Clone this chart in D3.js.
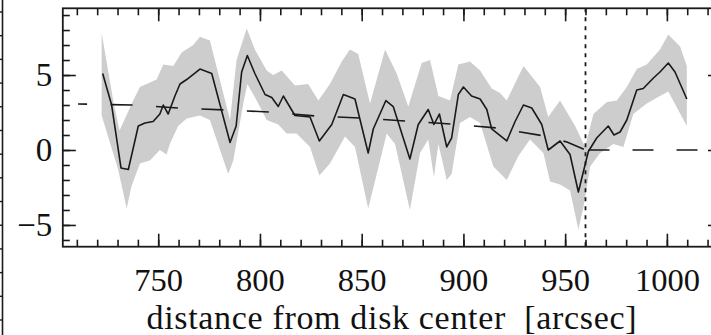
<!DOCTYPE html>
<html><head><meta charset="utf-8">
<script src="https://cdn.jsdelivr.net/npm/d3@7"></script>
<style>body{margin:0;background:#fff}svg{display:block}</style>
</head><body>
<svg id="c" width="711" height="335"></svg>
<script>
// ---- data (distance from disk center [arcsec], value) ----
const lineDist = [722.7,727.1,731.7,735.3,740.2,743.5,747.5,750.8,752.5,754.9,758.2,760.7,764,770.5,776.3,785.3,788.3,791,793.8,797.5,802.5,805.8,809,811.5,817.2,824.6,829.2,835.3,841,846.7,853.2,855.7,861.9,865.5,873.7,877.8,882.7,885.5,888.2,891.8,894.2,897.5,900,904,908.2,911.5,913.9,921.3,925.4,929.5,933.6,938.5,941.7,947.5,952.4,956.5,961.4,965.5,971.2,974,977,980.3,985.2,988.4,993.4,996.6,1000.7,1004,1009.8];
const lineVal  = [5.1,3.0,-1.2,-1.3,1.6,1.8,1.9,2.4,3.0,2.4,3.6,4.4,4.7,5.4,5.1,0.5,1.6,5.2,6.3,5.1,3.7,3.5,2.9,3.6,2.3,2.2,0.6,1.7,3.7,3.4,-0.2,1.4,3.3,2.9,-0.6,1.7,2.7,1.7,2.4,0.2,0.8,3.7,4.2,3.6,3.4,2.7,1.4,0.6,1.9,3.0,2.8,1.7,0.0,0.6,-0.3,-2.8,-0.1,0.8,1.6,1.0,1.2,2.0,4.0,4.1,4.8,5.2,5.8,5.2,3.4];

const upperDist = [722.2,728,731,737.7,741,749.2,752.5,757.4,761.5,767.2,770.5,775.4,785.3,788.5,793.5,797.5,803.3,806.5,810.7,817.2,823.7,828.7,834.4,840.2,844.2,848.3,854.1,861.5,867.2,872.9,879.5,883.6,887.7,893.4,897.5,903.2,908.2,913.9,918,921.3,929.5,937.7,941.7,947.5,954.9,959.8,963.9,970.5,975.4,980.3,985.2,990.1,996.6,1000.7,1006.5,1009.8];
const upperVal  = [7.8,3.2,1.3,3.3,4.2,4.7,5.7,5.6,6.5,7.0,7.55,7.3,2.0,6.0,8.1,6.7,5.3,5.0,5.3,4.3,4.4,3.3,4.4,5.9,6.7,6.4,3.1,6.7,5.1,2.9,5.8,6.0,3.6,3.3,5.7,5.9,5.3,4.1,3.8,3.3,5.6,4.2,2.2,3.3,1.6,0.2,2.4,3.2,3.3,4.2,5.4,5.7,6.7,7.7,6.9,5.6];

const lowerDist = [722.2,730.3,734.5,736.9,741,745.9,750.8,754.1,755.7,759.8,764,770.5,775.4,784.4,786.9,791.8,793.8,798.4,803.3,809,813.1,818,824.6,829.2,834.4,841.8,846.7,853.2,857.4,862.3,866.4,873.7,878.7,882.7,885.5,887.7,891.8,894.2,898.3,903.2,908.2,914.7,921.3,927,932.7,939.3,942.6,947.5,952.4,956.5,959,962.3,967.2,973.7,978.6,983.5,990.1,996.6,1000.7,1009.8];
const lowerVal  = [2.3,-1.3,-3.9,-2.4,-0.9,-0.7,0.0,-0.3,0.4,1.6,2.1,2.3,2.0,-1.6,-0.7,3.1,4.4,3.3,2.0,1.7,1.1,1.1,0.2,-1.7,-0.9,0.9,0.2,-3.9,-1.6,1.1,0.4,-4.0,-0.2,0.7,-1.8,0.4,-2.0,-1.6,1.8,2.2,1.8,-1.1,-2.0,-0.4,0.7,-0.2,-2.1,-2.3,-2.7,-5.3,-3.8,-1.1,-0.2,0.4,0.2,2.4,3.1,3.6,3.9,1.6];

const trendDist = [710.6,737.6,759.7,782.8,804.9,827,849.2,872.3,894.4,916.5,939,950.9,960];
const trendVal  = [3.07,3.0,2.8,2.67,2.53,2.27,2.13,1.93,1.73,1.47,0.95,0.53,0.0];
const zeroDist  = [960,1030];
const zeroVal   = [0,0];

const limbDist = 960;
const xMajorTicks = [750,800,850,900,950,1000];
const yMajorTicks = [-5,0,5];
const xLabel = "distance from disk center\u00a0\u00a0[arcsec]";

// ---- layout ----
const svg = d3.select("#c");
const L = 62.8, R = 721, T = 8.3, B = 246.7;
const x = d3.scaleLinear().domain([703.1, 1026.6]).range([L, R]);
const y = d3.scaleLinear().domain([-6.45, 9.45]).range([B, T]);
const font = "'Liberation Serif','Times New Roman',serif";
const ink = "#1a1a1a";

svg.append("defs").append("clipPath").attr("id","clip")
  .append("rect").attr("x",L).attr("y",T).attr("width",R-L).attr("height",B-T);

const plot = svg.append("g").attr("clip-path","url(#clip)");

// band
const upperPts = upperDist.map((d,i)=>[d, upperVal[i]]);
const lowerPts = lowerDist.map((d,i)=>[d, lowerVal[i]]);
const bandPts = upperPts.concat(lowerPts.slice().reverse());
const ln = d3.line().x(d=>x(d[0])).y(d=>y(d[1]));
plot.append("path").attr("d", ln(bandPts) + "Z").attr("fill","#cdcdcd").attr("stroke","none");

// trend dashed
plot.append("path").attr("d", ln(trendDist.map((d,i)=>[d,trendVal[i]])))
  .attr("fill","none").attr("stroke",ink).attr("stroke-width",1.6)
  .attr("stroke-dasharray","22,23.5").attr("stroke-dashoffset",13);
plot.append("path").attr("d", ln(zeroDist.map((d,i)=>[d,zeroVal[i]])))
  .attr("fill","none").attr("stroke",ink).attr("stroke-width",1.6)
  .attr("stroke-dasharray","21,23").attr("stroke-dashoffset",41);

// main line
plot.append("path").attr("d", ln(lineDist.map((d,i)=>[d,lineVal[i]])))
  .attr("fill","none").attr("stroke",ink).attr("stroke-width",1.6).attr("stroke-linejoin","round");

// limb dotted line
plot.append("line").attr("x1",x(limbDist)).attr("x2",x(limbDist)).attr("y1",T).attr("y2",B)
  .attr("stroke",ink).attr("stroke-width",1.8).attr("stroke-dasharray","4,5");

// axes
function styleAxis(size){
  return g => {
    g.select(".domain").remove();
    g.selectAll(".tick line").attr("stroke",ink).attr("stroke-width",1.6);
    g.selectAll("text").attr("font-family",font).attr("font-size",size).attr("fill","#111");
  };
}
const xMinor = d3.range(710, 1021, 10);
const yMinor = d3.range(-6, 10, 1);

svg.append("g").attr("transform",`translate(0,${B})`)
  .call(d3.axisBottom(x).tickValues(xMinor).tickSize(-7).tickFormat("")).call(styleAxis(32));
svg.append("g").attr("transform",`translate(0,${B})`)
  .call(d3.axisBottom(x).tickValues(xMajorTicks).tickSize(-13).tickPadding(21).tickFormat(d3.format("d"))).call(styleAxis(32.5));
svg.append("g").attr("transform",`translate(0,${T})`)
  .call(d3.axisTop(x).tickValues(xMinor).tickSize(-7).tickFormat("")).call(styleAxis(32));
svg.append("g").attr("transform",`translate(0,${T})`)
  .call(d3.axisTop(x).tickValues(xMajorTicks).tickSize(-13).tickFormat("")).call(styleAxis(32));

svg.append("g").attr("transform",`translate(${L},0)`)
  .call(d3.axisLeft(y).tickValues(yMinor).tickSize(-7).tickFormat("")).call(styleAxis(33));
svg.append("g").attr("transform",`translate(${L},0)`)
  .call(d3.axisLeft(y).tickValues(yMajorTicks).tickSize(-13).tickPadding(10.5).tickFormat(d3.format("d"))).call(styleAxis(33));
svg.append("g").attr("transform",`translate(${R},0)`)
  .call(d3.axisRight(y).tickValues(yMinor).tickSize(-7).tickFormat("")).call(styleAxis(33));
svg.append("g").attr("transform",`translate(${R},0)`)
  .call(d3.axisRight(y).tickValues(yMajorTicks).tickSize(-13).tickFormat("")).call(styleAxis(33));

// frame
svg.append("rect").attr("x",L).attr("y",T).attr("width",R-L).attr("height",B-T)
  .attr("fill","none").attr("stroke",ink).attr("stroke-width",1.8);

// axis title
svg.append("text").attr("x",391.5).attr("y",328.5).attr("text-anchor","middle")
  .attr("font-family",font).attr("font-size",34).attr("fill","#111")
  .attr("textLength",490).attr("lengthAdjust","spacing").text(xLabel);

// neighbouring panel edge at the far left
const nb = d3.scaleLinear().domain([0,13]).range([12,320]);
const ng = svg.append("g");
ng.append("line").attr("x1",2.5).attr("x2",2.5).attr("y1",0).attr("y2",335).attr("stroke",ink).attr("stroke-width",1.6);
ng.selectAll("line.t").data(d3.range(0,14)).join("line").attr("class","t")
  .attr("x1",0).attr("x2",3).attr("y1",d=>nb(d)).attr("y2",d=>nb(d)).attr("stroke",ink).attr("stroke-width",1.4);
</script>
</body></html>
